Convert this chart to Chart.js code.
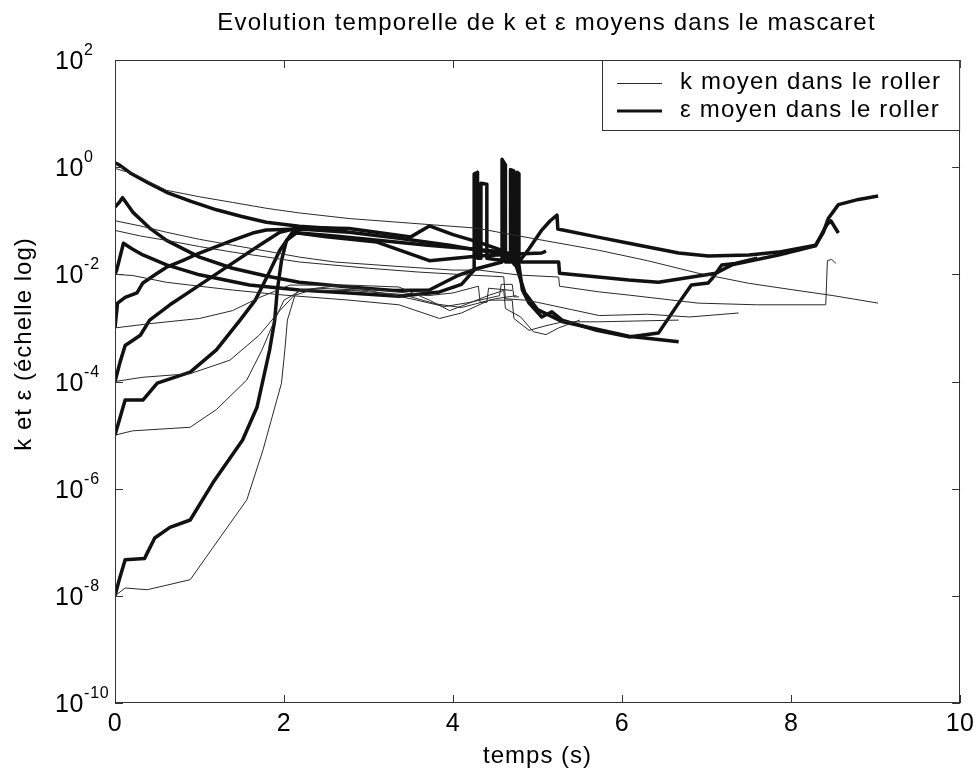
<!DOCTYPE html>
<html lang="fr">
<head>
<meta charset="utf-8">
<title>Evolution temporelle de k et ε moyens dans le mascaret</title>
<script src="https://cdn.jsdelivr.net/npm/chart.js@4.4.1/dist/chart.umd.min.js"></script>
<style>
  html, body { margin: 0; padding: 0; background: #fff; }
  #wrap { width: 980px; height: 773px; position: relative; }
</style>
</head>
<body>
<div id="wrap"><canvas id="chart"></canvas></div>
<script>
/* ── TEXTS & TICKS ─────────────────────────────────────────── */
const titleText    = 'Evolution temporelle de k et ε moyens dans le mascaret';
const xTitle       = 'temps (s)';
const yTitle       = 'k et ε (échelle log)';
const legendLabels = ['k moyen dans le roller', 'ε moyen dans le roller'];
const xTicks       = [0, 2, 4, 6, 8, 10];
const yTickExps    = [2, 0, -2, -4, -6, -8, -10];

/* ── k curves (thin) : [t (s), k] ──────────────────────────── */
const k1 = [[0,0.95],[0.1,0.85],[0.21,0.77],[0.4,0.54],[0.61,0.37],[1.0,0.28],[1.39,0.22],[1.8,0.17],
            [2.18,0.14],[2.77,0.11],[3.5,0.09],[4.27,0.073],[5.0,0.045],[5.73,0.028],[6.3,0.018],
            [6.9,0.0105],[7.5,0.0068],[8.0,0.0052],[8.5,0.004],[9.03,0.0029]];
const k2 = [[0,0.1],[0.3,0.08],[0.61,0.061],[1.0,0.045],[1.39,0.035],[1.8,0.027],[2.18,0.021],[2.6,0.017],
            [3.36,0.014],[4.0,0.012],[4.31,0.012],[4.78,0.0097],[5.25,0.0089],[5.26,0.006],[5.73,0.0047],
            [6.08,0.0041],[6.9,0.0029],[7.6,0.0027],[8.41,0.0027],[8.43,0.018],[8.48,0.019],[8.53,0.016]];
const k3 = [[0,0.066],[0.3,0.052],[0.61,0.043],[1.0,0.033],[1.39,0.026],[1.8,0.021],[2.18,0.017],[3.0,0.013],
            [3.6,0.011],[4.2,0.0097],[4.6,0.009],[4.62,0.0035],[4.85,0.0033],[5.0,0.003],[5.4,0.0022],
            [5.73,0.0017],[6.3,0.0018],[6.8,0.0016],[7.38,0.0019]];
const k4 = [[0,0.01],[0.21,0.0095],[0.61,0.0071],[1.0,0.006],[1.39,0.0051],[2.0,0.0041],[2.77,0.0033],
            [3.36,0.0027],[3.84,0.0015],[4.1,0.0019],[4.43,0.0033],[4.7,0.0033],[4.72,0.0015],[4.9,0.0009],
            [5.1,0.0011],[5.3,0.0013],[5.73,0.0013],[6.67,0.0014]];
const k5 = [[0,0.001],[0.41,0.0012],[1.0,0.0015],[1.39,0.0021],[1.71,0.0037],[2.07,0.0063],[2.77,0.0063],
            [3.36,0.0058],[3.72,0.0033],[3.96,0.0021],[4.19,0.0029],[4.43,0.0041],[4.6,0.005],[4.62,0.0023],
            [4.8,0.0016],[4.95,0.00085],[5.1,0.00075],[5.25,0.001],[5.5,0.0014]];
const k6 = [[0,1e-4],[0.33,1.2e-4],[0.89,1.4e-4],[1.36,2.5e-4],[1.71,7.4e-4],[1.95,0.0021],[2.18,0.0051],
            [2.6,0.006],[3.2,0.005],[3.7,0.004],[4.0,0.0045],[4.3,0.006],[4.32,0.003],[4.4,0.003],
            [4.42,0.0055],[4.7,0.005]];
const k7 = [[0,1e-5],[0.21,1.2e-5],[0.89,1.4e-5],[1.2,3e-5],[1.56,1.07e-4],[1.74,3.9e-4],[1.89,0.0014],
            [2.0,0.0033],[2.2,0.005],[2.8,0.005],[3.4,0.0042],[3.8,0.0028],[4.1,0.0024],[4.5,0.0035],[4.75,0.004]];
const k8 = [[0,1e-8],[0.12,1.4e-8],[0.38,1.3e-8],[0.89,2e-8],[1.16,8e-8],[1.56,6.2e-7],[1.75,5.2e-6],
            [1.97,9.3e-5],[2.01,3.9e-4],[2.04,0.0014],[2.13,0.0041],[2.4,0.0055],[3.0,0.005],[3.5,0.0035],
            [3.9,0.0025],[4.2,0.003],[4.55,0.004],[4.57,0.0065],[4.7,0.0065],[4.72,0.0038],[4.78,0.0038]];

/* ── epsilon curves (thick) : [t (s), eps] ─────────────────── */
const e1 = [[0,1.2],[0.05,1.1],[0.18,0.78],[0.4,0.5],[0.61,0.34],[0.9,0.23],[1.2,0.16],[1.5,0.12],
            [1.79,0.094],[2.18,0.079],[2.75,0.069]];
const e2 = [[0,0.18],[0.05,0.22],[0.09,0.27],[0.21,0.145],[0.41,0.073],[0.61,0.043],[1.0,0.021],[1.39,0.013],
            [1.79,0.0093],[2.18,0.0071],[2.77,0.0058],[3.3,0.005],[3.72,0.0051],[4.07,0.0097],[4.3,0.013],
            [4.58,0.017],[4.58,1.4],[4.62,1.1],[4.62,0.017],[4.68,0.017],[4.68,0.9],[4.72,0.85],[4.72,0.017],
            [4.76,0.017],[4.76,0.8],[4.78,0.75],[4.78,0.017],[4.9,0.03],[5.05,0.067],[5.15,0.1],[5.23,0.127],
            [5.24,0.07],[5.73,0.049],[6.08,0.038],[6.67,0.025],[7.02,0.022],[7.5,0.023],[7.85,0.026],
            [8.29,0.035],[8.38,0.06],[8.44,0.11],[8.56,0.2],[8.8,0.25],[9.03,0.29]];
const e3 = [[0,0.01],[0.02,0.012],[0.1,0.038],[0.2,0.03],[0.33,0.023],[0.61,0.015],[1.0,0.0098],[1.59,0.0063],
            [2.18,0.0051],[2.77,0.0045],[3.36,0.0039],[3.84,0.0047],[4.1,0.0065],[4.25,0.012],[4.25,0.75],
            [4.29,0.8],[4.29,0.02],[4.33,0.02],[4.33,0.5],[4.4,0.48],[4.4,0.02],[4.5,0.019],[4.8,0.017],
            [5.25,0.017],[5.26,0.0105],[6.08,0.0078],[6.43,0.0071],[7.11,0.0105],[7.3,0.015],[7.85,0.023],
            [8.29,0.034],[8.42,0.083],[8.47,0.1],[8.56,0.059]];
const e4 = [[0,0.001],[0.03,0.0029],[0.12,0.0037],[0.26,0.0045],[0.33,0.0069],[0.5,0.0105],[0.61,0.0136],
            [0.8,0.018],[1.0,0.025],[1.39,0.043],[1.63,0.059],[1.79,0.067],[2.18,0.07],[2.77,0.061],[3.36,0.047],
            [3.96,0.035],[4.31,0.028],[4.66,0.023],[4.78,0.015],[4.82,0.0051],[4.9,0.0029],[5.05,0.0016],
            [5.17,0.002],[5.29,0.0014],[5.7,0.0009],[6.08,0.00068],[6.43,0.0008],[6.67,0.0029],[6.82,0.0063],
            [7.02,0.0069],[7.08,0.0089],[7.18,0.015],[7.34,0.016],[7.6,0.02]];
const e5 = [[0,1e-4],[0.06,2.3e-4],[0.12,4.7e-4],[0.3,7.3e-4],[0.41,0.0014],[0.65,0.0027],[1.0,0.0063],
            [1.36,0.015],[1.71,0.035],[1.95,0.061],[2.18,0.075],[2.77,0.072],[3.2,0.058],[3.5,0.05],[3.72,0.08],
            [4.0,0.055],[4.3,0.04],[4.58,0.028],[4.75,0.014],[4.85,0.0045],[5.0,0.0022],[5.3,0.0013],
            [6.08,0.0007],[6.67,0.00055]];
const e6 = [[0,1e-5],[0.12,4.5e-5],[0.33,4.5e-5],[0.5,9.3e-5],[0.89,1.5e-4],[1.2,3.9e-4],[1.48,0.0014],
            [1.66,0.0033],[1.81,0.0097],[1.95,0.028],[2.1,0.061],[2.5,0.05],[3.1,0.04],[3.72,0.018],
            [4.3,0.022],[4.76,0.024],[5.05,0.025],[5.1,0.027]];
const e7 = [[0,1e-8],[0.05,2e-8],[0.12,4.7e-8],[0.35,5e-8],[0.47,1.2e-7],[0.65,1.9e-7],[0.89,2.6e-7],
            [1.16,1.3e-6],[1.51,8.1e-6],[1.68,3.3e-5],[1.83,3.9e-4],[1.89,0.0014],[1.92,0.005],[1.97,0.018],
            [2.03,0.043],[2.15,0.06],[2.6,0.052],[3.2,0.042],[3.7,0.035],[4.2,0.03],[4.6,0.026],[4.7,0.024]];

const kSeries = [k1, k2, k3, k4, k5, k6, k7, k8];
const eSeries = [e1, e2, e3, e4, e5, e6, e7];

/* ── STYLE ─────────────────────────────────────────────────── */
const FONT      = '"Liberation Sans", Arial, Helvetica, sans-serif';
const THIN_CLR  = '#2a2a2a';
const THICK_CLR = '#111111';
const THIN_W    = 1;
const THICK_W   = 3.5;

const toXY = arr => arr.map(([t, v]) => ({ x: t, y: v }));

const datasets = [
  ...kSeries.map((s, i) => ({
    label: i === 0 ? legendLabels[0] : '',
    data: toXY(s), borderColor: THIN_CLR, borderWidth: THIN_W
  })),
  ...eSeries.map((s, i) => ({
    label: i === 0 ? legendLabels[1] : '',
    data: toXY(s), borderColor: THICK_CLR, borderWidth: THICK_W
  }))
];

/* ── FRAME, TICKS, LABELS, LEGEND (MATLAB look) ────────────── */
function text(ctx, str, x, y, size, align, spacing) {
  ctx.font = size + 'px ' + FONT;
  ctx.textAlign = align;
  ctx.textBaseline = 'alphabetic';
  ctx.letterSpacing = spacing + 'px';
  ctx.fillText(str, x, y);
}

const framePlugin = {
  id: 'frame',
  beforeDraw(chart) {
    chart.ctx.letterSpacing = '0.5px';
  },
  afterDraw(chart) {
    const { ctx, chartArea: a, scales } = chart;
    const xs = scales.x, ys = scales.y;
    ctx.save();
    ctx.fillStyle = '#000';

    // axes box
    ctx.strokeStyle = '#333';
    ctx.lineWidth = 1;
    ctx.strokeRect(Math.round(a.left) + 0.5, Math.round(a.top) + 0.5,
                   Math.round(a.right - a.left) - 1, Math.round(a.bottom - a.top) - 1);

    // inward tick marks
    ctx.beginPath();
    xTicks.forEach(v => {
      const px = Math.round(xs.getPixelForValue(v)) + 0.5;
      ctx.moveTo(px, a.bottom); ctx.lineTo(px, a.bottom - 8);
      ctx.moveTo(px, a.top);    ctx.lineTo(px, a.top + 8);
    });
    yTickExps.forEach(e => {
      const py = Math.round(ys.getPixelForValue(Math.pow(10, e))) + 0.5;
      ctx.moveTo(a.left, py);  ctx.lineTo(a.left + 8, py);
      ctx.moveTo(a.right, py); ctx.lineTo(a.right - 8, py);
    });
    ctx.stroke();

    // y tick labels 10^e
    yTickExps.forEach(e => {
      const py = ys.getPixelForValue(Math.pow(10, e));
      text(ctx, '10', 55, py + 9, 25, 'left', 0.5);
      text(ctx, String(e), 84, py - 5, 16, 'left', 0.8);
    });

    // titles
    text(ctx, titleText, (a.left + a.right) / 2 + 9, 30, 24, 'center', 1.2);
    text(ctx, xTitle, (a.left + a.right) / 2, 763, 24, 'center', 1);
    ctx.save();
    ctx.translate(31, 344);
    ctx.rotate(-Math.PI / 2);
    text(ctx, yTitle, 0, 0, 24, 'center', 1);
    ctx.restore();

    // legend box
    const lx = 602, ly = a.top, lw = a.right - lx, lh = 70;
    ctx.fillStyle = '#fff';
    ctx.fillRect(lx, ly, lw, lh);
    ctx.strokeStyle = '#333';
    ctx.strokeRect(lx + 0.5, ly + 0.5, lw - 1, lh);
    ctx.fillStyle = '#000';
    ctx.beginPath();
    ctx.strokeStyle = THIN_CLR; ctx.lineWidth = THIN_W;
    ctx.moveTo(617, 83.5); ctx.lineTo(662, 83.5);
    ctx.stroke();
    ctx.beginPath();
    ctx.strokeStyle = THICK_CLR; ctx.lineWidth = 3;
    ctx.moveTo(617, 111); ctx.lineTo(662, 111);
    ctx.stroke();
    text(ctx, legendLabels[0], 680, 89, 24, 'left', 1.2);
    text(ctx, legendLabels[1], 680, 117, 24, 'left', 1.2);

    ctx.restore();
  }
};

/* ── CHART ─────────────────────────────────────────────────── */
new Chart(document.getElementById('chart'), {
  type: 'line',
  data: { datasets },
  options: {
    responsive: true,
    maintainAspectRatio: false,
    animation: false,
    layout: { padding: { top: 60, right: 18, left: 0, bottom: 0 } },
    elements: {
      point: { radius: 0, hoverRadius: 0 },
      line : { tension: 0, borderJoinStyle: 'round', borderCapStyle: 'butt' }
    },
    scales: {
      x: {
        type: 'linear', min: 0, max: 10,
        grid  : { display: false, drawTicks: false },
        border: { display: false },
        ticks : {
          stepSize: 2, padding: 6, color: '#000',
          font: { size: 25, family: FONT }
        },
        afterFit: s => { s.height = 70; }
      },
      y: {
        type: 'logarithmic', min: 1e-10, max: 100,
        grid  : { display: false, drawTicks: false },
        border: { display: false },
        ticks : { display: false },
        afterFit: s => { s.width = 115; }
      }
    },
    plugins: {
      legend : { display: false },
      title  : { display: false },
      tooltip: { enabled: false }
    }
  },
  plugins: [framePlugin]
});
</script>
</body>
</html>
